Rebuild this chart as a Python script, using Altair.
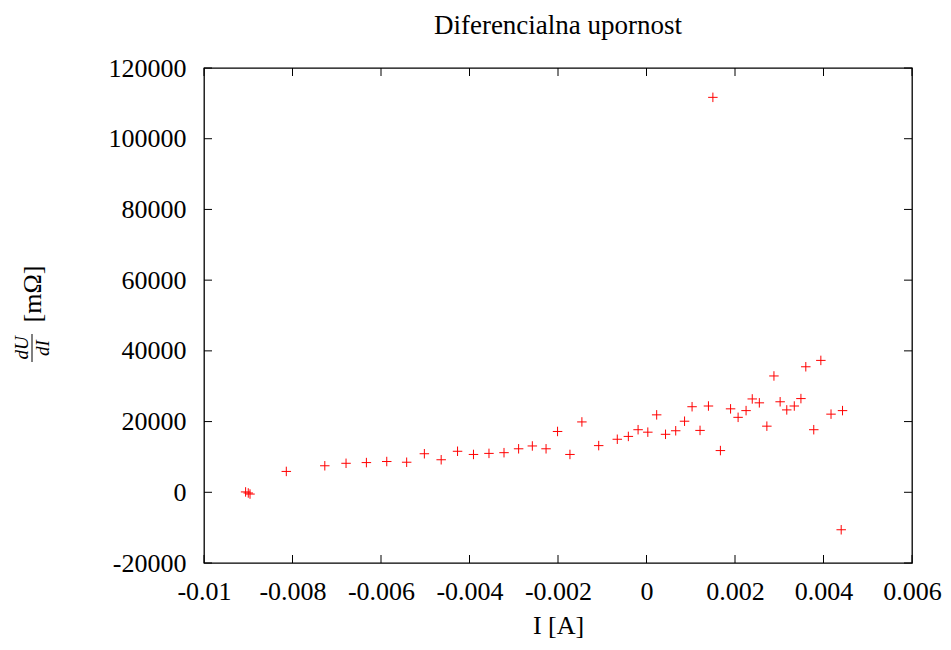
import altair as alt
import pandas as pd

# Data
current = [-0.00906, -0.00900, -0.00896, -0.00814, -0.00727, -0.00679, -0.00633, -0.00587,
           -0.00542, -0.00502, -0.00464, -0.00427, -0.00391, -0.00356, -0.00322, -0.00289,
           -0.00258, -0.00227, -0.00201, -0.00173, -0.00146, -0.00108, -0.00066, -0.00041,
           -0.00019, 0.00003, 0.00023, 0.00043, 0.00066, 0.00086, 0.00103, 0.00121,
           0.00140, 0.00150, 0.00167, 0.00190, 0.00207, 0.00225, 0.00239, 0.00255,
           0.00272, 0.00288, 0.00302, 0.00317, 0.00334, 0.00349, 0.00360, 0.00378,
           0.00394, 0.00417, 0.00440, 0.00443]
resistance = [100, -200, -500, 5900, 7500, 8200, 8400, 8700,
              8500, 10900, 9200, 11600, 10700, 11000, 11200, 12300,
              13100, 12300, 17200, 10700, 19900, 13200, 15000, 15800,
              17700, 17000, 21900, 16400, 17400, 20100, 24200, 17500,
              24400, 111700, 11800, 23600, 21200, 23100, 26400, 25300,
              18700, 32900, 25600, 23300, 24400, 26500, 35500, 17700,
              37300, 22100, -10600, 23100]

x_ticks = [-0.01, -0.008, -0.006, -0.004, -0.002, 0, 0.002, 0.004, 0.006]
y_ticks = [-20000, 0, 20000, 40000, 60000, 80000, 100000, 120000]

title_text = "Diferencialna upornost"
x_title = "I [A]"

FONT = "Liberation Serif"
FS = 26

df = pd.DataFrame({"I": current, "R": resistance})
xt = pd.DataFrame({"I": x_ticks})
yt = pd.DataFrame({"R": y_ticks})

xscale = alt.Scale(domain=[x_ticks[0], x_ticks[-1]], nice=False, zero=False)
yscale = alt.Scale(domain=[y_ticks[0], y_ticks[-1]], nice=False, zero=False)

x_axis = alt.Axis(
    values=x_ticks, labelExpr="'' + datum.value", ticks=False, tickSize=0,
    domain=False, grid=False, labelPadding=15, labelFont=FONT, labelFontSize=FS,
    labelColor="black", labelFlush=False, labelOverlap=False,
    title=x_title, titleFont=FONT, titleFontSize=FS, titleFontWeight="normal",
    titleColor="black", titleY=70, titleBaseline="alphabetic")
y_axis = alt.Axis(
    values=y_ticks, labelExpr="'' + datum.value", ticks=False, tickSize=0,
    domain=False, grid=False, labelPadding=18, labelFont=FONT, labelFontSize=FS,
    labelColor="black", labelFlush=False, labelOverlap=False, title="")

points = alt.Chart(df).mark_point(
    shape="M-1,0L1,0M0,-1L0,1", size=90, stroke="#ff0000", strokeWidth=1,
    filled=False, opacity=1
).encode(
    x=alt.X("I:Q", scale=xscale, axis=x_axis),
    y=alt.Y("R:Q", scale=yscale, axis=y_axis),
)

tick_style = dict(size=8, thickness=1, color="black", opacity=1)

tick_bottom = alt.Chart(xt).mark_tick(orient="vertical", yOffset=-4, **tick_style).encode(
    x=alt.X("I:Q", scale=xscale, axis=x_axis),
    y=alt.YDatum(y_ticks[0], type="quantitative", scale=yscale, axis=y_axis),
)
tick_top = alt.Chart(xt).mark_tick(orient="vertical", yOffset=4, **tick_style).encode(
    x=alt.X("I:Q", scale=xscale, axis=x_axis),
    y=alt.YDatum(y_ticks[-1], type="quantitative", scale=yscale, axis=y_axis),
)
tick_left = alt.Chart(yt).mark_tick(orient="horizontal", xOffset=4, **tick_style).encode(
    y=alt.Y("R:Q", scale=yscale, axis=y_axis),
    x=alt.XDatum(x_ticks[0], type="quantitative", scale=xscale, axis=x_axis),
)
tick_right = alt.Chart(yt).mark_tick(orient="horizontal", xOffset=-4, **tick_style).encode(
    y=alt.Y("R:Q", scale=yscale, axis=y_axis),
    x=alt.XDatum(x_ticks[-1], type="quantitative", scale=xscale, axis=x_axis),
)

# y-axis title: fraction dU/dI followed by [mΩ], rotated
one = alt.Data(values=[{}])
lab_du = alt.Chart(one).mark_text(text="dU", font=FONT, fontSize=19, fontStyle="italic",
                                  angle=270, align="center", baseline="middle",
                                  color="black").encode(x=alt.value(-182), y=alt.value(280))
lab_di = alt.Chart(one).mark_text(text="dI", font=FONT, fontSize=19, fontStyle="italic",
                                  angle=270, align="center", baseline="middle",
                                  color="black").encode(x=alt.value(-161), y=alt.value(280))
lab_bar = alt.Chart(one).mark_rule(color="black", strokeWidth=1).encode(
    x=alt.value(-172), y=alt.value(266), y2=alt.value(294))
lab_unit = alt.Chart(one).mark_text(text="[mΩ]", font=FONT, fontSize=FS,
                                    angle=270, align="center", baseline="middle",
                                    color="black").encode(x=alt.value(-171), y=alt.value(226))

chart = alt.layer(
    points, tick_bottom, tick_top, tick_left, tick_right,
    lab_du, lab_di, lab_bar, lab_unit
).properties(
    width=708, height=495,
    title=alt.TitleParams(title_text, font=FONT, fontSize=27, fontWeight="normal",
                          color="black", offset=-6, baseline="alphabetic",
                          anchor="middle", frame="group"),
    autosize=alt.AutoSizeParams(type="none"),
    padding={"left": 196, "top": 60, "right": 31, "bottom": 78},
).configure(
    background="white",
    view=alt.ViewConfig(stroke="black", strokeWidth=1.3),
)

chart.save("out.html", embed_options={"renderer": "svg", "actions": False})
